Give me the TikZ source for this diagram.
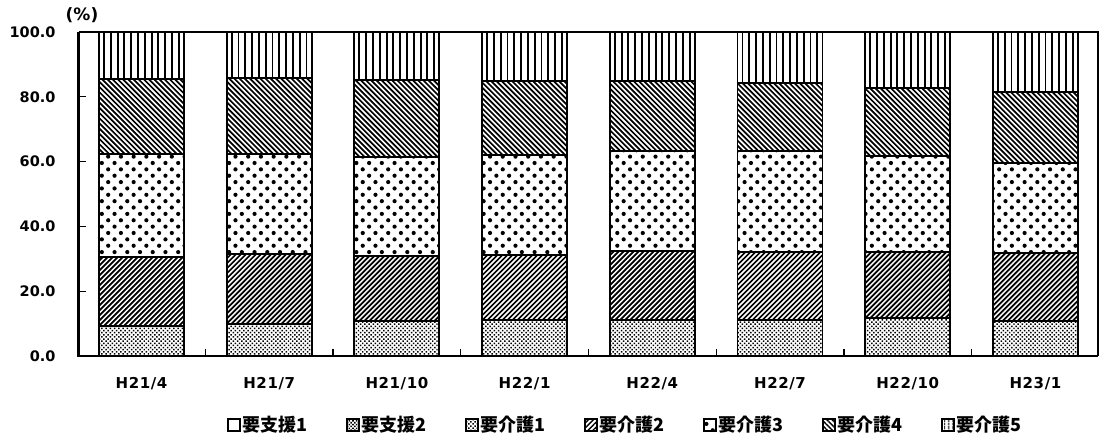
\documentclass[tikz,border=0pt]{standalone}
\usepackage{fontspec}
\setmainfont{DejaVu Sans}
\newfontfamily\jp{Noto Sans CJK JP}
\usetikzlibrary{patterns,patterns.meta}
\tikzset{
  barline/.style={line width=1.9pt, draw=black},
  hatch/.style={line width=1.7pt, draw=black, line cap=butt},
  vhatch/.style={line width=1.9pt, draw=black, line cap=butt},
  pS1/.style={fill=white},
  pS2/.style={pattern={Dots[radius=1.1pt,distance=2.6pt,angle=45]}},
  pK1/.style={pattern={Dots[radius=1.05pt,distance=3pt,angle=45]}},
  pK2/.style={pattern={Lines[angle=45,distance=3.6pt,line width=1.4pt]}},
  pK3/.style={pattern={Dots[radius=2.1pt,distance=9pt,angle=45]}},
  pK4/.style={pattern={Lines[angle=-45,distance=3.6pt,line width=1.4pt]}},
  pK5/.style={pattern={Lines[angle=90,distance=4pt,line width=1.6pt]}},
  ylab/.style={anchor=east, font=\bfseries\fontsize{14.5}{15}\selectfont},
  xlab/.style={font=\bfseries\addfontfeature{LetterSpace=4}\fontsize{15}{15}\selectfont},
  legtext/.style={anchor=west, inner sep=0pt, font=\jp\bfseries\fontsize{18}{18}\selectfont},
  legbox/.style={line width=1.8pt, draw=black, minimum size=12pt, inner sep=0pt},
}
\begin{document}
\begin{tikzpicture}[x=1pt,y=1pt]
\useasboundingbox (0,0) rectangle (1099,443);
% bars
\foreach \i/\a/\b/\c/\d in {0/9.3/30.5/62.3/85.6, 1/10/31.5/62.3/85.7, 2/10.8/30.9/61.4/85.2, 3/11/31.2/62/85, 4/11/32.4/63.3/84.9, 5/11.1/32.1/63.3/84.3, 6/11.7/32.1/61.7/82.8, 7/10.9/31.8/59.7/81.6}{
  \pgfmathsetmacro\xl{141.5+127.7*\i-42.5}
  \pgfmathsetmacro\xr{141.5+127.7*\i+42.5}
  \pgfmathsetmacro\ya{87+3.24*\a}
  \pgfmathsetmacro\yb{87+3.24*\b}
  \pgfmathsetmacro\yc{87+3.24*\c}
  \pgfmathsetmacro\yd{87+3.24*\d}
  \path[pK1] (\xl,87) rectangle (\xr,\ya);
  \begin{scope}
    \clip (\xl,\ya) rectangle (\xr,\yb);
    \foreach \t in {-90,-85,...,90}{ \draw[hatch] ({\xl+\t},\ya) -- ++(100,100); }
  \end{scope}
  \path[pK3] (\xl,\yb) rectangle (\xr,\yc);
  \begin{scope}
    \clip (\xl,\yc) rectangle (\xr,\yd);
    \foreach \t in {0,5.2,...,186}{ \draw[hatch] ({\xl+\t},\yc) -- ++(-100,100); }
  \end{scope}
  \begin{scope}
    \clip (\xl,\yd) rectangle (\xr,411);
    \foreach \t in {5,11.8,...,84}{ \draw[vhatch] ({\xl+\t},\yd) -- ({\xl+\t},411); }
  \end{scope}
  \draw[barline] (\xl,87) rectangle (\xr,411);
  \draw[barline] (\xl,\ya) -- (\xr,\ya) (\xl,\yb) -- (\xr,\yb) (\xl,\yc) -- (\xr,\yc) (\xl,\yd) -- (\xr,\yd);
}
% frame and axes
\coordinate (o) at (78.5,87);
\coordinate (tl) at (78.5,411);
\coordinate (br) at (1098,87);
\coordinate (tr) at (1098,411);
\draw[line width=1.6pt] (tl) -- (tr) -- (br);
\draw[line width=2.2pt] (tl) -- (o) -- (br);
\foreach \p in {20,40,60,80}{
  \draw[line width=1.3pt] (78.5,{87+3.24*\p}) -- (86,{87+3.24*\p});
}
\foreach \k in {0,...,6}{
  \draw[line width=1.3pt] ({141.5+63.85+127.7*\k},87) -- ({141.5+63.85+127.7*\k},94);
}
% y labels
\foreach \p/\t in {0/0.0,20/20.0,40/40.0,60/60.0,80/80.0,100/100.0}{
  \node[ylab] (y\p) at (59,{87+3.24*\p}) {\t};
}
\node[font=\bfseries\fontsize{17}{17}\selectfont] (unit) at (82,428) {(\%)};
% x labels
\foreach \lab [count=\i from 0] in {H21/4,H21/7,H21/10,H22/1,H22/4,H22/7,H22/10,H23/1}{
  \node[xlab] (x\i) at ({141.5+127.7*\i},59) {\lab};
}
% legend
\foreach \st/\t [count=\j from 0] in {pS1/要支援1,pS2/要支援2,pK1/要介護1,pK2/要介護2,pK3/要介護3,pK4/要介護4,pK5/要介護5}{
  \node[legbox,\st] (lb\j) at ({234+119*\j},18) {};
  \node[legtext] (lt\j) at ({242.5+119*\j},18) {\t};
}
\end{tikzpicture}
\end{document}
